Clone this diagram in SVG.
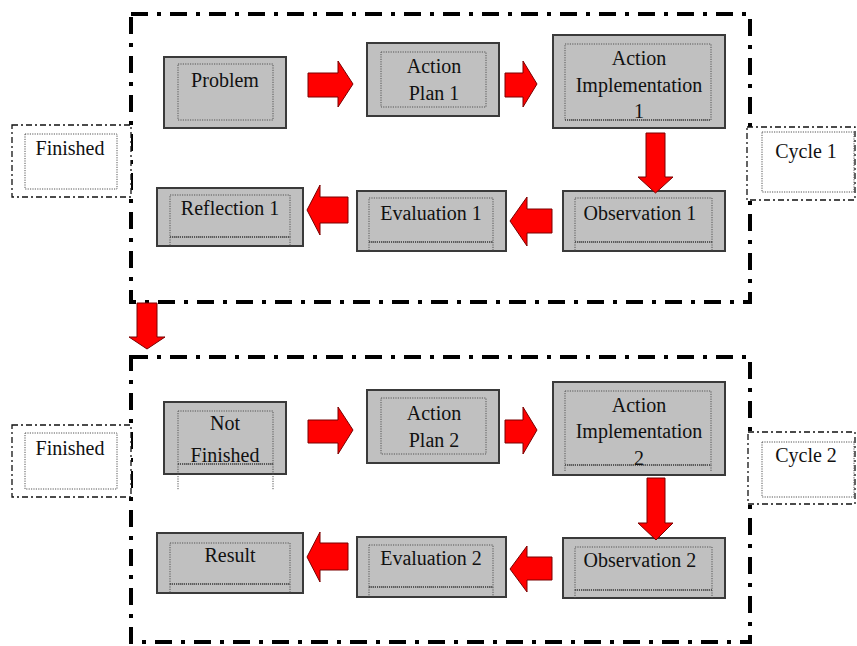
<svg xmlns="http://www.w3.org/2000/svg" width="857" height="646" viewBox="0 0 857 646">
<style>
.bg{fill:#ffffff}
.box{fill:#c0c0c0;stroke:#3a3a3a;stroke-width:2}
.inner{fill:none;stroke:#555;stroke-width:1;stroke-dasharray:1.2 1.2}
.innerb{fill:none;stroke:#444;stroke-width:1.4;stroke-dasharray:1 1}
.cont{fill:none;stroke:#000;stroke-width:4;stroke-dasharray:17 9 4 9}
.side{fill:#fff;stroke:#111;stroke-width:1.3;stroke-dasharray:6 3 2 3}
.arr{fill:#ff0000;stroke:#7a0000;stroke-width:1;stroke-linejoin:miter}
.t{font-family:'Liberation Serif','DejaVu Serif',serif;font-size:20px;fill:#111;text-anchor:middle}
</style>
<rect class="bg" x="0" y="0" width="857" height="646"/>

<g id="containers">
<rect class="cont" x="131" y="14" width="619" height="288"/>
<rect class="cont" x="131" y="357" width="619" height="285"/>
</g>

<g id="side-labels" font-family="Liberation Serif, DejaVu Serif, serif">
<g id="finished1">
<rect class="side" x="12" y="125" width="119" height="72"/>
<rect class="inner" x="25" y="134" width="92" height="55"/>
<text class="t" x="70" y="155">Finished</text>
</g>
<g id="cycle1">
<rect class="side" x="747" y="127" width="108" height="73"/>
<rect class="inner" x="762" y="132" width="92" height="60"/>
<text class="t" x="806" y="158">Cycle 1</text>
</g>
<g id="finished2">
<rect class="side" x="12" y="425" width="119" height="72"/>
<rect class="inner" x="25" y="433" width="92" height="56"/>
<text class="t" x="70" y="455">Finished</text>
</g>
<g id="cycle2">
<rect class="side" x="748" y="432" width="107" height="72"/>
<rect class="inner" x="762" y="442" width="92" height="55"/>
<text class="t" x="806" y="462">Cycle 2</text>
</g>
</g>

<g id="nodes" font-family="Liberation Serif, DejaVu Serif, serif">
<g id="problem">
<rect class="box" x="164" y="57" width="122" height="71"/>
<rect class="inner" x="178" y="64" width="95" height="56"/>
<text class="t" x="225" y="87">Problem</text>
</g>
<g id="action-plan-1">
<rect class="box" x="367" y="43" width="132" height="73"/>
<rect class="inner" x="381" y="52" width="105" height="55"/>
<text class="t" x="434" y="73">Action</text>
<text class="t" x="434" y="100">Plan 1</text>
</g>
<g id="action-implementation-1">
<rect class="box" x="553" y="35" width="172" height="93"/>
<rect class="inner" x="565" y="44" width="146" height="76"/>
<line class="innerb" x1="565" y1="120" x2="711" y2="120"/>
<text class="t" x="639" y="65">Action</text>
<text class="t" x="639" y="92">Implementation</text>
<text class="t" x="639" y="118">1</text>
</g>
<g id="observation-1">
<rect class="box" x="563" y="191" width="162" height="60"/>
<rect class="inner" x="575" y="198" width="137" height="44"/>
<line class="innerb" x1="575" y1="242" x2="712" y2="242"/>
<line class="inner" x1="575" y1="242" x2="575" y2="251"/>
<line class="inner" x1="712" y1="242" x2="712" y2="251"/>
<text class="t" x="640" y="220">Observation 1</text>
</g>
<g id="evaluation-1">
<rect class="box" x="357" y="191" width="149" height="60"/>
<rect class="inner" x="369" y="198" width="124" height="44"/>
<line class="innerb" x1="369" y1="242" x2="493" y2="242"/>
<line class="inner" x1="369" y1="242" x2="369" y2="251"/>
<line class="inner" x1="493" y1="242" x2="493" y2="251"/>
<text class="t" x="431" y="220">Evaluation 1</text>
</g>
<g id="reflection-1">
<rect class="box" x="157" y="188" width="146" height="58"/>
<rect class="inner" x="170" y="195" width="120" height="42"/>
<line class="innerb" x1="170" y1="237" x2="290" y2="237"/>
<line class="inner" x1="170" y1="237" x2="170" y2="246"/>
<line class="inner" x1="290" y1="237" x2="290" y2="246"/>
<text class="t" x="230" y="215">Reflection 1</text>
</g>

<g id="not-finished">
<rect class="box" x="164" y="402" width="122" height="72"/>
<rect class="inner" x="178" y="411" width="95" height="53"/>
<line class="innerb" x1="178" y1="464" x2="273" y2="464"/>
<line class="inner" x1="178" y1="464" x2="178" y2="490"/>
<line class="inner" x1="273" y1="464" x2="273" y2="490"/>
<text class="t" x="225" y="430">Not</text>
<text class="t" x="225" y="462">Finished</text>
</g>
<g id="action-plan-2">
<rect class="box" x="367" y="390" width="132" height="73"/>
<rect class="inner" x="381" y="398" width="105" height="56"/>
<text class="t" x="434" y="420">Action</text>
<text class="t" x="434" y="447">Plan 2</text>
</g>
<g id="action-implementation-2">
<rect class="box" x="553" y="382" width="172" height="93"/>
<rect class="inner" x="565" y="391" width="146" height="74"/>
<line class="innerb" x1="565" y1="465" x2="711" y2="465"/>
<line class="inner" x1="565" y1="465" x2="565" y2="471"/>
<line class="inner" x1="711" y1="465" x2="711" y2="471"/>
<text class="t" x="639" y="412">Action</text>
<text class="t" x="639" y="438">Implementation</text>
<text class="t" x="639" y="465">2</text>
</g>
<g id="observation-2">
<rect class="box" x="563" y="538" width="162" height="60"/>
<rect class="inner" x="575" y="547" width="137" height="43"/>
<line class="innerb" x1="575" y1="590" x2="712" y2="590"/>
<line class="inner" x1="575" y1="590" x2="575" y2="598"/>
<line class="inner" x1="712" y1="590" x2="712" y2="598"/>
<text class="t" x="640" y="567">Observation 2</text>
</g>
<g id="evaluation-2">
<rect class="box" x="357" y="537" width="149" height="60"/>
<rect class="inner" x="369" y="545" width="124" height="42"/>
<line class="innerb" x1="369" y1="587" x2="493" y2="587"/>
<line class="inner" x1="369" y1="587" x2="369" y2="597"/>
<line class="inner" x1="493" y1="587" x2="493" y2="597"/>
<text class="t" x="431" y="565">Evaluation 2</text>
</g>
<g id="result">
<rect class="box" x="157" y="533" width="146" height="60"/>
<rect class="inner" x="170" y="543" width="120" height="41"/>
<line class="innerb" x1="170" y1="584" x2="290" y2="584"/>
<line class="inner" x1="170" y1="584" x2="170" y2="593"/>
<line class="inner" x1="290" y1="584" x2="290" y2="593"/>
<text class="t" x="230" y="562">Result</text>
</g>
</g>

<g id="connectors">
<polygon class="arr" points="308,73 338,73 338,61 353,84 338,107 338,97 308,97"/>
<polygon class="arr" points="505,73 523,73 523,61 537,84 523,107 523,97 505,97"/>
<polygon class="arr" points="646,133 665,133 665,177 673,177 655.5,193 638,177 646,177"/>
<polygon class="arr" points="552,209 527,209 527,197 510,221 527,246 527,233 552,233"/>
<polygon class="arr" points="348,197 320,197 320,185 307,210 320,235 320,223 348,223"/>
<polygon class="arr" points="137,303 157,303 157,337 165,337 147,349 129,337 137,337"/>
<polygon class="arr" points="308,420 338,420 338,407 353,430 338,454 338,443 308,443"/>
<polygon class="arr" points="505,420 523,420 523,407 537,430 523,454 523,443 505,443"/>
<polygon class="arr" points="647,478 665,478 665,523 673,523 656,540 638,523 647,523"/>
<polygon class="arr" points="552,557 527,557 527,546 510,569 527,592 527,580 552,580"/>
<polygon class="arr" points="348,543 320,543 320,532 307,557 320,582 320,570 348,570"/>
</g>
</svg>
